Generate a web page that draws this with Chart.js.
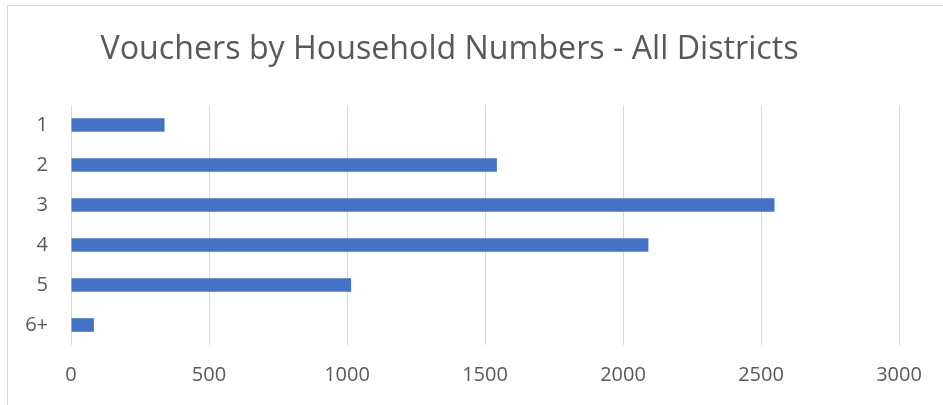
<!DOCTYPE html>
<html>
<head>
<meta charset="utf-8">
<script src="https://cdn.jsdelivr.net/npm/chart.js@4"></script>
<style>
  html, body { margin: 0; padding: 0; background: #ffffff; overflow: hidden; }
  #wrap { position: relative; width: 943px; height: 405px; overflow: hidden; }
  #frame { position: absolute; left: 7px; top: 5px; width: 960px; height: 420px; border: 1px solid #d9d9d9; box-sizing: border-box; }
  canvas { position: absolute; left: 0; top: 0; }
</style>
</head>
<body>
<div id="wrap">
  <div id="frame"></div>
  <canvas id="c" width="957" height="405"></canvas>
</div>
<script>
const categories = ["1", "2", "3", "4", "5", "6+"];
const vouchers = [339, 1543, 2549, 2092, 1015, 83];
const xTicks = [0, 500, 1000, 1500, 2000, 2500, 3000];
const titleText = "Vouchers by Household Numbers - All Districts";

new Chart(document.getElementById("c"), {
  type: "bar",
  data: {
    labels: categories,
    datasets: [{
      data: vouchers,
      backgroundColor: "#4472C4",
      borderWidth: 0,
      barPercentage: 0.34,
      categoryPercentage: 1.0
    }]
  },
  options: {
    indexAxis: "y",
    responsive: false,
    animation: false,
    layout: { padding: { left: 0, right: 58, top: 0, bottom: 0 } },
    plugins: {
      legend: { display: false },
      tooltip: { enabled: false },
      title: {
        display: true,
        text: titleText,
        color: "#595959",
        font: { family: "Open Sans", size: 32.2, weight: "normal" },
        padding: { top: 30.5, bottom: 35.9 }
      }
    },
    scales: {
      x: {
        min: 0,
        max: 3000,
        afterBuildTicks: (s) => { s.ticks = xTicks.map(v => ({ value: v })); },
        afterFit: (s) => { s.height = 60; },
        grid: { color: "#d9d9d9", lineWidth: 1, drawTicks: false },
        border: { display: false },
        ticks: {
          color: "#595959",
          font: { family: "Open Sans", size: 20 },
          padding: 18,
          callback: (v) => String(v)
        }
      },
      y: {
        afterFit: (s) => { s.width = 71; },
        grid: { display: false, drawTicks: false },
        border: { display: false },
        ticks: { color: "#595959", font: { family: "Open Sans", size: 20 }, padding: 23 }
      }
    }
  }
});
</script>
</body>
</html>
